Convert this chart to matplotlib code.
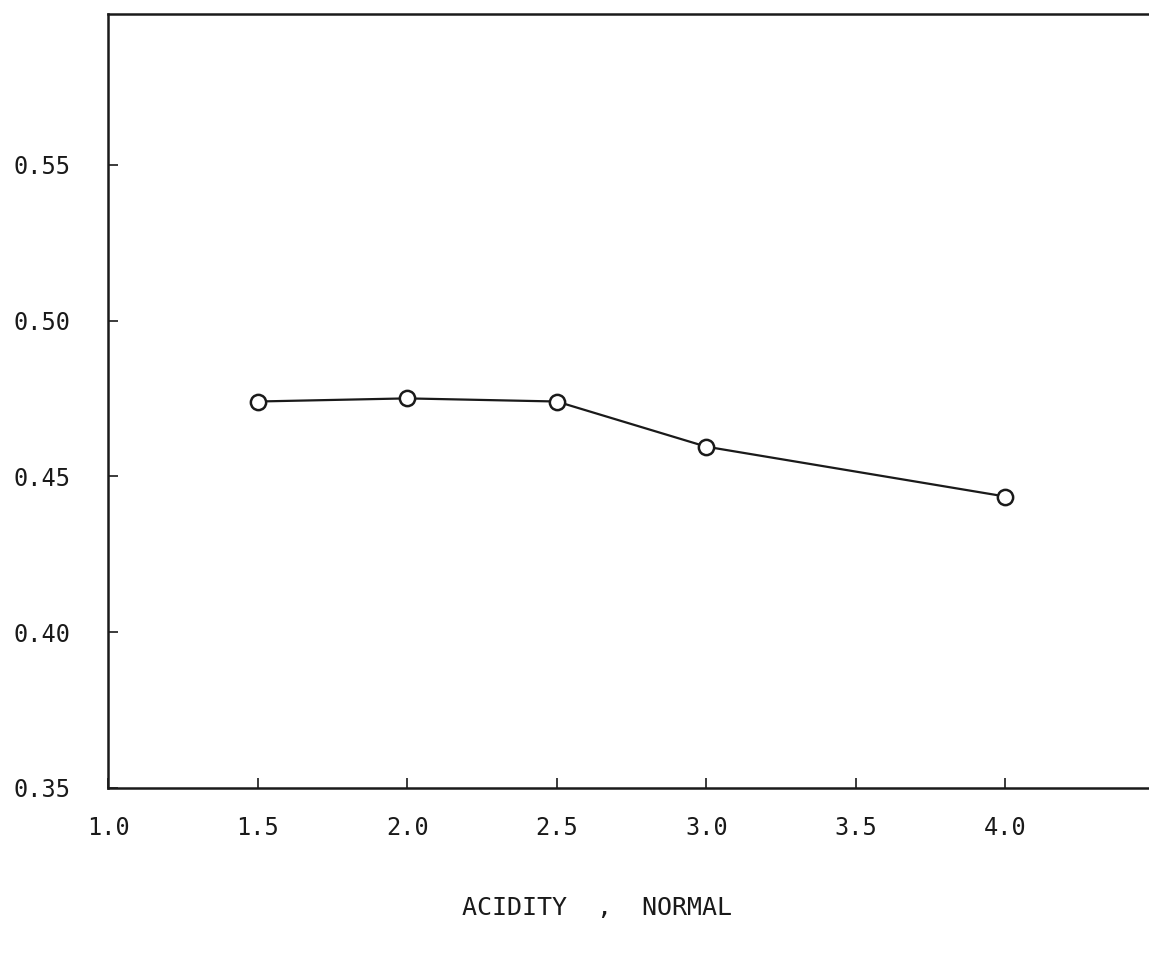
import matplotlib
matplotlib.use('Agg')
import matplotlib.pyplot as plt

acidity = [1.5, 2.0, 2.5, 3.0, 4.0]
values = [0.474, 0.475, 0.474, 0.4595, 0.4435]

xticks = [1.0, 1.5, 2.0, 2.5, 3.0, 3.5, 4.0]
xtick_labels = ['1.0', '1.5', '2.0', '2.5', '3.0', '3.5', '4.0']
yticks = [0.35, 0.40, 0.45, 0.50, 0.55]
ytick_labels = ['0.35', '0.40', '0.45', '0.50', '0.55']

plt.rcParams['font.family'] = ['DejaVu Sans Mono']

fig = plt.figure(figsize=(11.49, 9.75), dpi=100)
ax = fig.add_axes([0.094, 0.192, 0.906, 0.794])

ax.plot(acidity, values, color='#1a1a1a', linewidth=1.6, marker='o',
        markersize=11, markerfacecolor='white', markeredgecolor='#1a1a1a',
        markeredgewidth=1.8)

ax.set_xlim(1.0, 4.48)
ax.set_ylim(0.35, 0.5985)
ax.set_xticks(xticks)
ax.set_xticklabels(xtick_labels)
ax.set_yticks(yticks)
ax.set_yticklabels(ytick_labels)

ax.spines['right'].set_visible(False)
for s in ['left', 'top', 'bottom']:
    ax.spines[s].set_linewidth(1.8)
    ax.spines[s].set_color('#1a1a1a')

ax.tick_params(axis='both', direction='in', length=7, width=1.2,
               labelsize=17, colors='#1a1a1a')
ax.tick_params(axis='x', pad=20)
ax.tick_params(axis='y', pad=27)

ax.set_xlabel('ACIDITY  ,  NORMAL', fontsize=18, color='#1a1a1a')
ax.xaxis.set_label_coords(0.47, -0.14)

fig.savefig('out.png', dpi=100)
